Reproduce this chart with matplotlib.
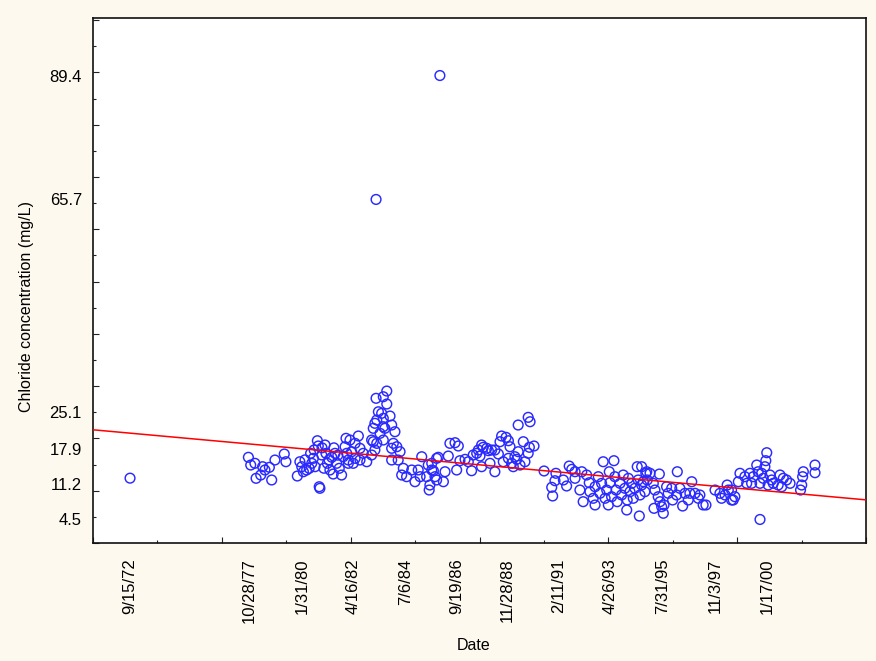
import numpy as np
import pandas as pd
import matplotlib
matplotlib.use("Agg")
import matplotlib.pyplot as plt
from matplotlib.ticker import FixedLocator, NullFormatter

# ---------------- data (decimal year, chloride mg/L) ----------------
yr_1972_79 = [1972.70, 1977.78, 1977.88, 1978.06, 1978.11, 1978.31, 1978.39, 1978.49,
              1978.68, 1978.78, 1978.92, 1979.32, 1979.39]
cl_1972_79 = [12.4, 16.39, 14.91, 15.24, 12.37, 13.00, 14.59, 13.96,
              14.47, 12.05, 15.87, 17.02, 15.54]

yr_1980_82 = [1979.88, 1979.99, 1980.07, 1980.14, 1980.28, 1980.39, 1980.45, 1980.50,
              1980.57, 1980.64, 1980.74, 1980.78, 1980.82, 1980.85, 1980.93, 1981.07,
              1981.11, 1981.17, 1981.28, 1981.36, 1981.42, 1981.50, 1981.57, 1981.68,
              1981.78, 1981.85, 1981.97, 1982.00, 1982.07,
              1980.21, 1980.60, 1980.94, 1981.24, 1981.62, 1981.45, 1981.02]
cl_1980_82 = [12.81, 15.54, 14.59, 13.63, 13.96, 14.28, 17.15, 15.24,
              16.19, 14.59, 19.56, 18.55, 10.76, 10.46, 16.83, 18.74,
              17.15, 15.24, 13.96, 16.39, 13.19, 17.15, 15.24, 14.28,
              13.00, 16.50, 20.02, 17.15, 15.24,
              15.9, 17.8, 18.2, 15.9, 16.8, 18.2, 14.3]

yr_1982_86 = [1982.14, 1982.50, 1982.36, 1981.93, 1982.57, 1982.21, 1982.36, 1982.07,
              1982.28, 1982.57, 1982.71, 1982.86, 1983.07, 1983.07, 1983.14, 1983.29,
              1983.21, 1983.57, 1983.14, 1983.21, 1983.29, 1983.43, 1983.57, 1983.64,
              1983.36, 1983.50, 1983.57, 1983.86, 1983.93, 1983.26, 1983.57, 1983.72,
              1983.72, 1984.07, 1984.00, 1984.15, 1983.93, 1984.29, 1983.93, 1984.21,
              1984.43, 1984.36, 1984.57, 1984.79, 1984.93, 1985.07, 1985.22, 1985.15,
              1985.43, 1985.50, 1985.65, 1985.57, 1985.54, 1985.79, 1985.86,
              1983.26, 1986.00]
cl_1982_86 = [19.69, 20.46, 19.06, 18.41, 18.11, 17.46, 16.19, 15.87,
              15.24, 15.87, 17.15, 15.54, 16.83, 19.69, 19.37, 19.06,
              17.78, 19.69, 21.93, 22.89, 23.52, 20.97, 22.24, 21.93,
              25.10, 24.80, 23.84, 24.28, 22.56, 27.67, 27.97, 29.06,
              26.58, 21.28, 19.06, 18.41, 18.11, 17.46, 15.87, 15.87,
              14.28, 13.00, 12.68, 13.96, 11.72, 13.96, 16.50, 12.68,
              12.68, 14.91, 13.96, 11.09, 10.13, 12.68, 16.19,
              65.7, 89.4]

yr_1986_90 = [1989.79, 1989.87, 1989.36, 1986.43, 1986.65, 1986.79, 1988.65, 1988.84,
              1988.94, 1988.58, 1989.01, 1989.58, 1990.04, 1989.84, 1987.79, 1987.86,
              1988.01, 1987.65, 1988.22, 1988.36, 1987.58, 1987.72, 1987.43, 1988.51,
              1988.08, 1989.36, 1989.79, 1985.93, 1986.36, 1987.08, 1986.86, 1987.22,
              1989.22, 1988.94, 1988.72, 1989.08, 1989.30, 1989.65, 1989.44, 1989.15,
              1988.15, 1987.79, 1988.36, 1987.36, 1986.72, 1985.72, 1986.22, 1985.86,
              1986.15, 1985.65]
cl_1986_90 = [24.03, 23.19, 22.56, 19.06, 19.18, 18.55, 20.46, 20.21,
              19.56, 19.37, 18.41, 19.37, 18.55, 18.30, 18.74, 18.30,
              18.11, 17.78, 17.78, 17.78, 17.15, 16.63, 16.83, 17.02,
              17.65, 17.46, 17.15, 16.39, 16.63, 16.00, 15.74, 15.54,
              16.50, 16.19, 15.54, 15.24, 16.00, 15.54, 14.91, 14.59,
              15.24, 14.59, 13.63, 13.82, 13.96, 13.82, 13.63, 12.05,
              11.72, 15.24]

yr_1990_95 = [1990.47, 1990.98, 1990.94, 1990.80, 1990.84, 1991.30, 1991.44, 1991.55,
              1991.66, 1991.80, 1991.80, 1992.09, 1992.30, 1992.01, 1992.15, 1992.41,
              1992.44, 1992.58, 1992.66, 1992.66, 1992.80, 1992.87, 1992.94, 1993.01,
              1993.09, 1993.16, 1993.23, 1993.27, 1993.30, 1993.37, 1993.47, 1993.51,
              1993.56, 1993.61, 1993.73, 1993.80, 1993.87, 1993.94, 1994.02, 1994.04,
              1994.09, 1994.16, 1994.23, 1994.30, 1994.37, 1994.47, 1994.51, 1994.56,
              1994.59, 1994.66, 1994.80, 1994.84, 1994.90]
cl_1990_95 = [13.77, 13.33, 11.91, 10.65, 8.99, 12.05, 10.90, 14.72,
              14.09, 13.63, 12.37, 13.63, 13.00, 10.13, 7.90, 11.53,
              9.81, 8.55, 7.27, 10.76, 12.68, 9.50, 11.41, 15.54,
              8.55, 10.13, 7.27, 13.63, 11.53, 8.85, 15.74, 12.68,
              10.13, 7.90, 11.41, 9.18, 13.00, 10.46, 6.31, 8.22,
              12.37, 9.81, 11.41, 8.55, 10.46, 14.59, 12.05, 5.16,
              9.18, 11.09, 9.81, 13.33, 12.05]

yr_1995_99 = [1994.66, 1994.88, 1995.02, 1995.42, 1996.19, 1994.73, 1995.16, 1995.23,
              1995.19, 1995.37, 1995.45, 1995.52, 1995.59, 1995.62, 1995.73, 1995.80,
              1995.95, 1995.99, 1996.16, 1996.30, 1996.42, 1996.52, 1996.66, 1996.73,
              1996.81, 1996.95, 1997.09, 1997.16, 1997.30, 1997.42, 1997.81, 1998.02,
              1998.09, 1998.24, 1998.33, 1998.38, 1998.52, 1998.66, 1998.88, 1998.81,
              1999.09, 1999.17]
cl_1995_99 = [14.59, 13.63, 13.33, 13.19, 13.63, 11.72, 11.41, 10.13,
              6.63, 8.85, 7.90, 6.94, 5.68, 7.27, 10.76, 9.50,
              10.46, 8.22, 9.18, 10.46, 7.07, 9.50, 8.22, 9.50,
              11.72, 9.50, 8.55, 9.18, 7.27, 7.27, 10.13, 9.50,
              8.55, 9.18, 11.09, 10.13, 8.22, 8.85, 13.33, 11.72,
              12.68, 11.41]

yr_1999_02 = [2000.03, 1999.99, 1999.95, 1999.60, 1999.66, 1999.31, 1999.45, 1999.81,
              1999.88, 2000.17, 2000.24, 2000.60, 2000.74, 2000.88, 2001.03, 1999.38,
              1999.74, 2000.09, 2000.31, 2000.52, 2000.67, 1998.52, 1998.59, 1999.74,
              2001.60, 2001.57, 2001.53, 2001.48, 2002.10, 2002.10]
cl_1999_02 = [17.27, 15.74, 14.59, 14.91, 13.63, 13.33, 12.68, 13.33,
              12.37, 13.00, 12.05, 13.00, 12.37, 12.05, 11.41, 11.41,
              11.41, 11.09, 11.41, 11.09, 10.76, 10.13, 8.22, 4.50,
              13.63, 12.68, 11.09, 10.13, 14.91, 13.44]

# fitted trend line (value at both ends of the plotted period)
trend_years = [1971.11, 2004.29]
trend_values = [21.65, 8.25]

x_tick_dates = ['9/15/72', '10/28/77', '1/31/80', '4/16/82', '7/6/84', '9/19/86',
                '11/28/88', '2/11/91', '4/26/93', '7/31/95', '11/3/97', '1/17/00']
y_tick_values = [4.5, 11.2, 17.9, 25.1, 65.7, 89.4]
y_tick_labels = ['4.5', '11.2', '17.9', '25.1', '65.7', '89.4']

x_range = (1971.11, 2004.29)
y_range = (0.0, 100.4)

# ---------------- helpers ----------------
def to_decimal_year(s):
    d = pd.to_datetime(s, format='%m/%d/%y')
    ndays = 366 if d.is_leap_year else 365
    return d.year + (d.dayofyear - 0.5) / ndays

years = np.concatenate([yr_1972_79, yr_1980_82, yr_1982_86, yr_1986_90,
                        yr_1990_95, yr_1995_99, yr_1999_02])
chloride = np.concatenate([cl_1972_79, cl_1980_82, cl_1982_86, cl_1986_90,
                           cl_1990_95, cl_1995_99, cl_1999_02])

plt.rcParams['font.family'] = ['Liberation Sans', 'DejaVu Sans']

W, H = 876, 661
fig = plt.figure(figsize=(W / 100, H / 100), dpi=100, facecolor='#fdf9ef')
ax = fig.add_axes([93 / W, 1 - 543 / H, 773 / W, 525 / H])
ax.set_facecolor('white')

ax.scatter(years, chloride, s=7.0 ** 2, facecolors='none', edgecolors='#2a2aff',
           linewidths=1.05, zorder=3)
ax.plot(trend_years, trend_values, color='#ff0000', lw=1.1, zorder=4)

ax.set_xlim(*x_range)
ax.set_ylim(*y_range)

# tick marks (Statistica-style, evenly spaced, no labels)
ax.xaxis.set_major_locator(FixedLocator(np.linspace(x_range[0], x_range[1], 7)))
ax.xaxis.set_minor_locator(FixedLocator(np.linspace(x_range[0], x_range[1], 13)))
ax.yaxis.set_major_locator(FixedLocator(np.arange(0, 101, 10)))
ax.yaxis.set_minor_locator(FixedLocator(np.arange(0, 101, 5)))
ax.xaxis.set_major_formatter(NullFormatter())
ax.yaxis.set_major_formatter(NullFormatter())
ax.tick_params(which='major', direction='in', length=4, width=0.8, color='#222222')
ax.tick_params(which='minor', direction='in', length=2.2, width=0.8, color='#222222')
for sp in ax.spines.values():
    sp.set_color('#111111')
    sp.set_linewidth(1.2)

# labels at data-specific positions
secx = ax.secondary_xaxis('bottom')
secx.set_xticks([to_decimal_year(s) for s in x_tick_dates], labels=x_tick_dates)
secx.tick_params(length=0, pad=11, labelsize=12, rotation=90)
secx.spines['bottom'].set_visible(False)

secy = ax.secondary_yaxis('left')
secy.set_yticks(y_tick_values, labels=y_tick_labels)
secy.tick_params(length=0, pad=8, labelsize=12)
secy.spines['left'].set_visible(False)

fig.text(474 / W, 1 - 645 / H, 'Date', ha='center', va='center', fontsize=11.5)
fig.text(27 / W, 1 - 307 / H, 'Chloride concentration (mg/L)', ha='center',
         va='center', rotation=90, fontsize=11.5)

fig.savefig('out.png', dpi=100, facecolor=fig.get_facecolor())
